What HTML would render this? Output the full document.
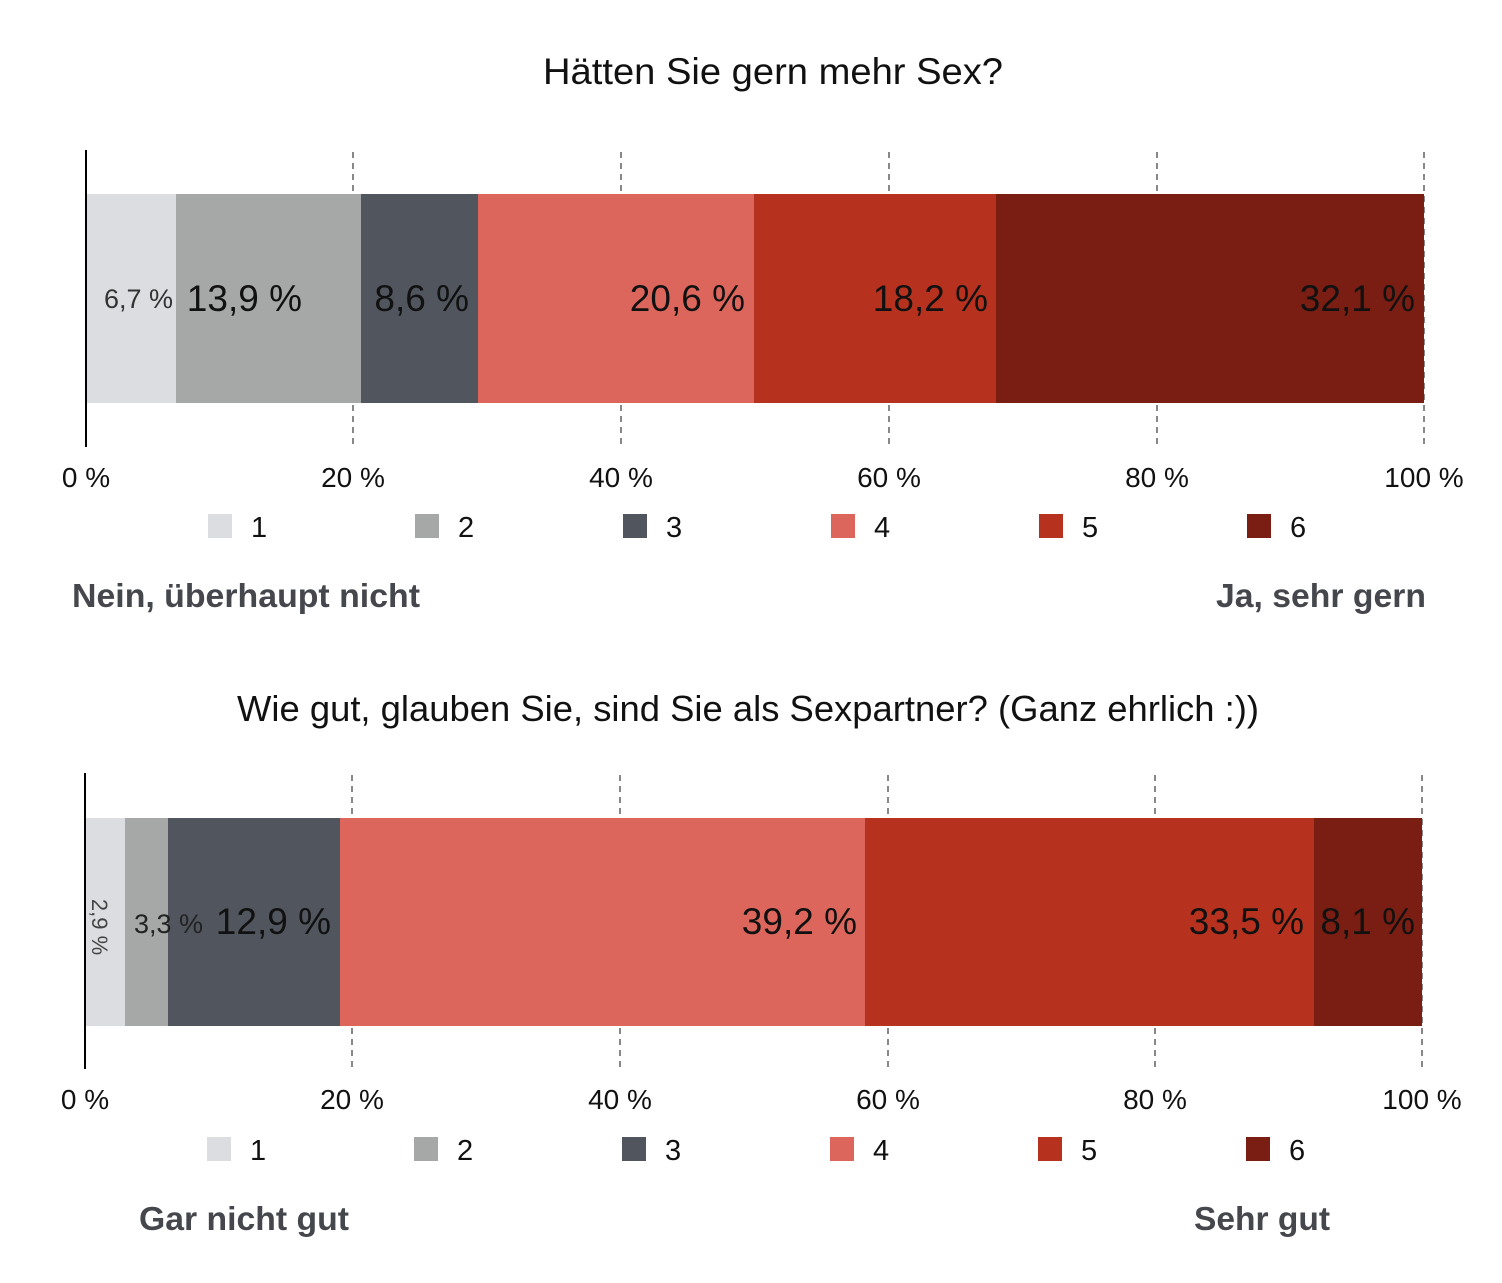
<!DOCTYPE html>
<html><head><meta charset="utf-8"><style>
html,body{margin:0;padding:0;background:#fff;}
text{font-family:"Liberation Sans",sans-serif;}
</style></head><body>
<svg width="1502" height="1278" viewBox="0 0 1502 1278" xmlns="http://www.w3.org/2000/svg">
<!-- Chart 1 -->
<text x="773" y="84" font-size="37" text-anchor="middle" fill="#111" textLength="460" lengthAdjust="spacingAndGlyphs">Hätten Sie gern mehr Sex?</text>
<g stroke="#888" stroke-width="2" stroke-dasharray="6,5">
<line x1="353" y1="152" x2="353" y2="445"/><line x1="621" y1="152" x2="621" y2="445"/><line x1="889" y1="152" x2="889" y2="445"/><line x1="1157" y1="152" x2="1157" y2="445"/><line x1="1424" y1="152" x2="1424" y2="445"/>
</g>
<rect x="86" y="194" width="90" height="209" fill="#dcdde1"/>
<rect x="176" y="194" width="185" height="209" fill="#a5a8a7"/>
<rect x="361" y="194" width="117" height="209" fill="#51565e"/>
<rect x="478" y="194" width="276" height="209" fill="#dc665c"/>
<rect x="754" y="194" width="242" height="209" fill="#b7321e"/>
<rect x="996" y="194" width="428" height="209" fill="#7a1d12"/>
<line x1="86" y1="150" x2="86" y2="447" stroke="#000" stroke-width="2"/>
<g fill="#111" text-anchor="end" font-size="37">
<text x="173" y="308" font-size="27" fill="#333">6,7 %</text>
<text x="302" y="311">13,9 %</text>
<text x="469" y="311">8,6 %</text>
<text x="745" y="311">20,6 %</text>
<text x="988" y="311">18,2 %</text>
<text x="1415" y="311">32,1 %</text>
</g>
<g font-size="28" fill="#111" text-anchor="middle">
<text x="86" y="487">0 %</text><text x="353" y="487">20 %</text><text x="621" y="487">40 %</text><text x="889" y="487">60 %</text><text x="1157" y="487">80 %</text><text x="1424" y="487">100 %</text>
</g>
<g font-size="29" fill="#111">
<rect x="208" y="514" width="24" height="24" fill="#dcdde1"/><text x="251" y="537">1</text>
<rect x="415" y="514" width="24" height="24" fill="#a5a8a7"/><text x="458" y="537">2</text>
<rect x="623" y="514" width="24" height="24" fill="#51565e"/><text x="666" y="537">3</text>
<rect x="831" y="514" width="24" height="24" fill="#dc665c"/><text x="874" y="537">4</text>
<rect x="1039" y="514" width="24" height="24" fill="#b7321e"/><text x="1082" y="537">5</text>
<rect x="1247" y="514" width="24" height="24" fill="#7a1d12"/><text x="1290" y="537">6</text>
</g>
<text x="72" y="607" font-size="33" font-weight="bold" fill="#45474d" textLength="348" lengthAdjust="spacingAndGlyphs">Nein, überhaupt nicht</text>
<text x="1216" y="607" font-size="33" font-weight="bold" fill="#45474d" textLength="210" lengthAdjust="spacingAndGlyphs">Ja, sehr gern</text>

<!-- Chart 2 -->
<text x="748" y="721" font-size="36" text-anchor="middle" fill="#111" textLength="1022" lengthAdjust="spacingAndGlyphs">Wie gut, glauben Sie, sind Sie als Sexpartner? (Ganz ehrlich :))</text>
<g stroke="#888" stroke-width="2" stroke-dasharray="6,5">
<line x1="352" y1="775" x2="352" y2="1067"/><line x1="620" y1="775" x2="620" y2="1067"/><line x1="888" y1="775" x2="888" y2="1067"/><line x1="1155" y1="775" x2="1155" y2="1067"/><line x1="1422" y1="775" x2="1422" y2="1067"/>
</g>
<rect x="85" y="818" width="40" height="208" fill="#dcdde1"/>
<rect x="125" y="818" width="43" height="208" fill="#a5a8a7"/>
<rect x="168" y="818" width="172" height="208" fill="#51565e"/>
<rect x="340" y="818" width="525" height="208" fill="#dc665c"/>
<rect x="865" y="818" width="449" height="208" fill="#b7321e"/>
<rect x="1314" y="818" width="108" height="208" fill="#7a1d12"/>
<line x1="85" y1="773" x2="85" y2="1069" stroke="#000" stroke-width="2"/>
<text x="0" y="0" font-size="22" fill="#444" text-anchor="middle" transform="translate(92,927) rotate(90)">2,9 %</text>
<g fill="#111" text-anchor="end" font-size="37">
<text x="203" y="933" font-size="27" fill="#222">3,3 %</text>
<text x="331" y="934">12,9 %</text>
<text x="857" y="934">39,2 %</text>
<text x="1304" y="934">33,5 %</text>
<text x="1415" y="934">8,1 %</text>
</g>
<g font-size="28" fill="#111" text-anchor="middle">
<text x="85" y="1109">0 %</text><text x="352" y="1109">20 %</text><text x="620" y="1109">40 %</text><text x="888" y="1109">60 %</text><text x="1155" y="1109">80 %</text><text x="1422" y="1109">100 %</text>
</g>
<g font-size="29" fill="#111">
<rect x="207" y="1137" width="24" height="24" fill="#dcdde1"/><text x="250" y="1160">1</text>
<rect x="414" y="1137" width="24" height="24" fill="#a5a8a7"/><text x="457" y="1160">2</text>
<rect x="622" y="1137" width="24" height="24" fill="#51565e"/><text x="665" y="1160">3</text>
<rect x="830" y="1137" width="24" height="24" fill="#dc665c"/><text x="873" y="1160">4</text>
<rect x="1038" y="1137" width="24" height="24" fill="#b7321e"/><text x="1081" y="1160">5</text>
<rect x="1246" y="1137" width="24" height="24" fill="#7a1d12"/><text x="1289" y="1160">6</text>
</g>
<text x="139" y="1230" font-size="33" font-weight="bold" fill="#45474d" textLength="210" lengthAdjust="spacingAndGlyphs">Gar nicht gut</text>
<text x="1194" y="1230" font-size="33" font-weight="bold" fill="#45474d" textLength="136" lengthAdjust="spacingAndGlyphs">Sehr gut</text>
</svg>
</body></html>
